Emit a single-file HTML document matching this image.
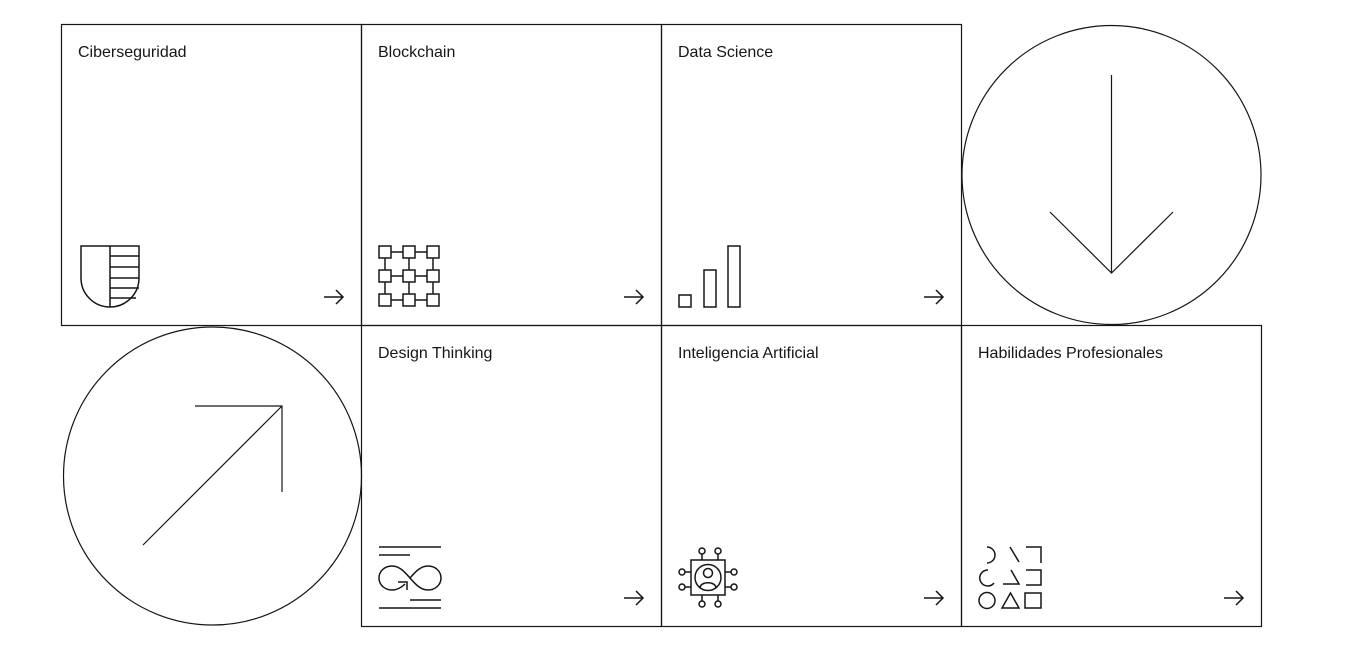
<!DOCTYPE html>
<html><head><meta charset="utf-8"><style>
html,body{margin:0;padding:0;background:#fff;width:1351px;height:665px;overflow:hidden}
svg{display:block}
text{font-family:"Liberation Sans",sans-serif;font-size:16px;fill:#161616}
</style></head><body>
<svg width="1351" height="665" viewBox="0 0 1351 665" fill="none" stroke="#161616" stroke-width="1.2">
<rect x="61.5" y="24.5" width="300" height="301"/>
<rect x="361.5" y="24.5" width="300" height="301"/>
<rect x="661.5" y="24.5" width="300" height="301"/>
<rect x="361.5" y="325.5" width="300" height="301"/>
<rect x="661.5" y="325.5" width="300" height="301"/>
<rect x="961.5" y="325.5" width="300" height="301"/>
<circle cx="1111.5" cy="175" r="149.5"/>
<path d="M1111.5 75V273M1050 212L1111.5 273L1173 212"/>
<circle cx="212.5" cy="476" r="149"/>
<path d="M143 545L282 406M195 406H282V492"/>
<g stroke="none">
<text x="78" y="57">Ciberseguridad</text>
<text x="378" y="57">Blockchain</text>
<text x="678" y="57">Data Science</text>
<text x="378" y="358">Design Thinking</text>
<text x="678" y="358">Inteligencia Artificial</text>
<text x="978" y="358">Habilidades Profesionales</text>
</g>
<g stroke-width="1.5">
<path d="M324 297H343M336 290L343 297L336 304"/>
<path d="M624 297H643M636 290L643 297L636 304"/>
<path d="M924 297H943M936 290L943 297L936 304"/>
<path d="M624 598H643M636 591L643 598L636 605"/>
<path d="M924 598H943M936 591L943 598L936 605"/>
<path d="M1224 598H1243M1236 591L1243 598L1236 605"/>
</g>
<g stroke-width="1.5">
<path d="M81 246H139V278A29 29 0 0 1 81 278Z"/>
<path d="M110 246V307M110 256H139M110 267H139M110 278H139M110 288H139M110 298H136"/>
</g>
<g stroke-width="1.5">
<rect x="379" y="246" width="12" height="12"/><rect x="403" y="246" width="12" height="12"/><rect x="427" y="246" width="12" height="12"/>
<rect x="379" y="270" width="12" height="12"/><rect x="403" y="270" width="12" height="12"/><rect x="427" y="270" width="12" height="12"/>
<rect x="379" y="294" width="12" height="12"/><rect x="403" y="294" width="12" height="12"/><rect x="427" y="294" width="12" height="12"/>
<path d="M391 252H403M415 252H427M391 276H403M415 276H427M391 300H403M415 300H427M385 258V270M409 258V270M433 258V270M385 282V294M409 282V294M433 282V294"/>
</g>
<g stroke-width="1.5">
<rect x="679" y="295" width="12" height="12"/>
<rect x="704" y="270" width="12" height="37"/>
<rect x="728" y="246" width="12" height="61"/>
</g>
<g stroke-width="1.5">
<path d="M379 547H441M379 555H410M410 600H441M379 608H441"/>
<path d="M405 584C401 588 397 590 392 590C385 590 379 585 379 578C379 571 385 566 392 566C399 566 404 571 410 578C416 585 421 590 428 590C435 590 441 585 441 578C441 571 435 566 428 566C421 566 416 571 410 578"/>
<path d="M398 582H407V590"/>
</g>
<g stroke-width="1.5">
<rect x="691" y="560" width="34" height="35"/>
<circle cx="708" cy="577.5" r="13"/>
<circle cx="708" cy="573" r="4.5"/>
<path d="M700 588C700 581 716 581 716 588"/>
<path d="M702 554V560M718 554V560M702 595V601M718 595V601M685 572H691M685 587H691M725 572H731M725 587H731"/>
<circle cx="702" cy="551" r="3"/><circle cx="718" cy="551" r="3"/>
<circle cx="702" cy="604" r="3"/><circle cx="718" cy="604" r="3"/>
<circle cx="682" cy="572" r="3"/><circle cx="682" cy="587" r="3"/>
<circle cx="734" cy="572" r="3"/><circle cx="734" cy="587" r="3"/>
</g>
<g stroke-width="1.5">
<path d="M987 547A8 8 0 0 1 987 563"/>
<path d="M1010 547L1019 562"/>
<path d="M1026 547H1041V563"/>
<path d="M988 570A8 8 0 1 0 994 583"/>
<path d="M1011 570L1019 584H1003"/>
<path d="M1026 570H1041V585H1026"/>
<circle cx="987" cy="600.5" r="8"/>
<path d="M1010.5 593L1002 608H1019Z"/>
<rect x="1025" y="593" width="16" height="15"/>
</g>
</svg>
</body></html>
